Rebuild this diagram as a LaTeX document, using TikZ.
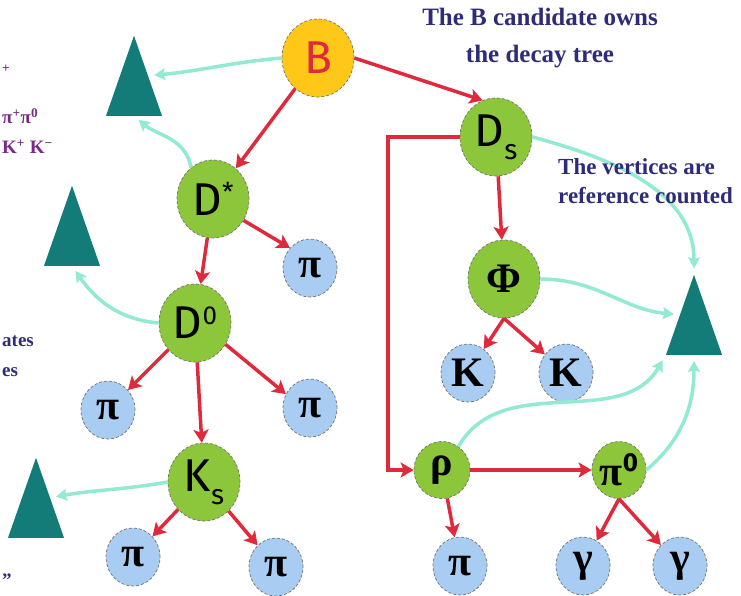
\documentclass[tikz,border=0pt]{standalone}
\usepackage{fontspec}
\setmainfont{Liberation Serif}
\newfontfamily\lblfont{Fira Sans}
\usepackage{tikz}
\usetikzlibrary{arrows.meta,shapes.geometric}
\definecolor{navy}{HTML}{2E2C78}
\definecolor{plum}{HTML}{7A2A86}
\definecolor{gold}{HTML}{FFC818}
\definecolor{leaf}{HTML}{8CC63A}
\definecolor{sky}{HTML}{A8CCF2}
\definecolor{vtxteal}{HTML}{137C78}
\definecolor{decay}{HTML}{DE2A3C}
\definecolor{owner}{HTML}{92EAD2}
\tikzset{
  cand/.style={ellipse,draw=black!55,densely dashed,line width=0.7pt,inner sep=0pt,
    minimum width=72pt,minimum height=78pt,font=\lblfont\fontsize{46}{46}\selectfont},
  mother/.style={cand,fill=gold,text=decay},
  inter/.style={cand,fill=leaf},
  greek/.style={font=\rmfamily\bfseries\fontsize{42}{42}\selectfont},
  final/.style={ellipse,draw=black!55,densely dashed,line width=0.7pt,inner sep=0pt,
    minimum width=54pt,minimum height=58pt,fill=sky,font=\bfseries\fontsize{42}{42}\selectfont},
  vtx/.style={isosceles triangle,isosceles triangle stretches,shape border rotate=90,
    fill=vtxteal,inner sep=0pt,minimum width=56pt,minimum height=80pt},
  dec/.style={-{Stealth[length=13pt,width=15pt,inset=3pt]},line width=3.5pt,draw=decay},
  own/.style={-{Stealth[length=11pt,width=12pt,inset=2pt]},line width=3.5pt,draw=owner,
    shorten >=6pt},
  note/.style={text=navy,font=\bfseries\fontsize{23}{29}\selectfont,align=center,inner sep=0pt},
  frag/.style={font=\bfseries\fontsize{19}{19}\selectfont,inner sep=0pt,anchor=west}
}
\newcommand{\hisup}[1]{\raisebox{14pt}{\lblfont\fontsize{26}{26}\selectfont#1}}
\newcommand{\losub}[1]{\raisebox{-13pt}{\lblfont\fontsize{28}{28}\selectfont#1}}

\begin{document}
\begin{tikzpicture}[x=1pt,y=1pt]
 \useasboundingbox (0,-596) rectangle (741,0);
 \fill[white] (0,-596) rectangle (741,0);

 \node[mother] (B) at (318,-58) {B};
 \node[inter] (Dst) at (213,-199) {D\hisup{*}};
 \node[final] (pa) at (310,-268) {π};
 \node[inter] (D0) at (195,-323) {D\hisup{0}};
 \node[final] (pb) at (108,-410) {π};
 \node[final] (pc) at (310,-408) {π};
 \node[inter] (Ks) at (204,-482) {K\losub{s}};
 \node[final] (pd) at (133,-557) {π};
 \node[final] (pe) at (276,-567) {π};
 \node[inter] (Ds) at (496,-137) {D\losub{s}};
 \node[inter,greek] (Phi) at (504,-279) {Φ};
 \node[final] (Ka) at (468,-373) {K};
 \node[final] (Kb) at (566,-373) {K};
 \node[inter,greek,minimum width=56pt,minimum height=57pt] (rho) at (442,-470) {ρ};
 \node[inter,greek,minimum width=54pt,minimum height=57pt] (pz) at (619,-470) {π\hisup{0}};
 \node[final] (pf) at (460,-566) {π};
 \node[final] (ga) at (583,-566) {γ};
 \node[final] (gb) at (680,-566) {γ};

 \node[vtx,anchor=lower side] (ta) at (134,-116) {};
 \node[vtx,anchor=lower side] (tb) at (72,-266) {};
 \node[vtx,anchor=lower side] (tc) at (36,-538) {};
 \node[vtx,anchor=lower side] (td) at (694,-355) {};
 \coordinate (turn) at (388,-470);

 \draw[dec] (B) -- (Dst);
 \draw[dec] (B.east) -- (Ds.110);
 \draw[dec] (Dst.-35) -- (pa.135);
 \draw[dec] (Dst) -- (D0);
 \draw[dec] (D0) -- (pb);
 \draw[dec] (D0.-35) -- (pc.150);
 \draw[dec] (D0) -- (Ks);
 \draw[dec] (Ks) -- (pd);
 \draw[dec] (Ks) -- (pe);
 \draw[dec] (Ds) -- (Phi);
 \draw[dec] (Phi.south) -- (Ka);
 \draw[dec] (Phi.south) -- (Kb);
 \draw[dec] (Ds.west) -| (turn) -- (rho);
 \draw[dec] (rho) -- (pz);
 \draw[dec] (rho) -- (pf);
 \draw[dec] (pz.south) -- (ga);
 \draw[dec] (pz.south) -- (gb);

 \draw[own] (B.west) to[out=185,in=5] (ta.right side);
 \draw[own] (Dst.125) to[out=100,in=-40] (ta.lower side);
 \draw[own] (D0.west) to[out=175,in=-55] (tb.lower side);
 \draw[own] (Ks.west) to[out=190,in=10] (tc.right side);
 \draw[own] (Ds.east) to[out=-15,in=90] (td.apex);
 \draw[own] (Phi.east) to[out=0,in=175] (td.left side);
 \draw[own] (rho.55) to[out=60,in=240] (td.left corner);
 \draw[own] (pz.east) to[out=40,in=-90] (td.lower side);

 \node[note,font=\bfseries\fontsize{25}{37}\selectfont] (owns) at (540,-38)
   {The B candidate owns\\the decay tree};
 \node[note,align=left,anchor=west] (refc) at (558,-181)
   {The vertices are\\reference counted};

 \node[frag,text=plum] (fa) at (2,-72) {\textsuperscript{+}};
 \node[frag,text=plum] (fb) at (2,-116) {π\textsuperscript{+}π\textsuperscript{0}};
 \node[frag,text=plum] (fc) at (2,-147) {K\textsuperscript{+} K\textsuperscript{−}};
 \node[frag,text=navy] (fd) at (2,-341) {ates};
 \node[frag,text=navy] (fe) at (2,-372) {es};
 \node[frag,text=navy] (ff) at (2,-580) {''};
\end{tikzpicture}
\end{document}
